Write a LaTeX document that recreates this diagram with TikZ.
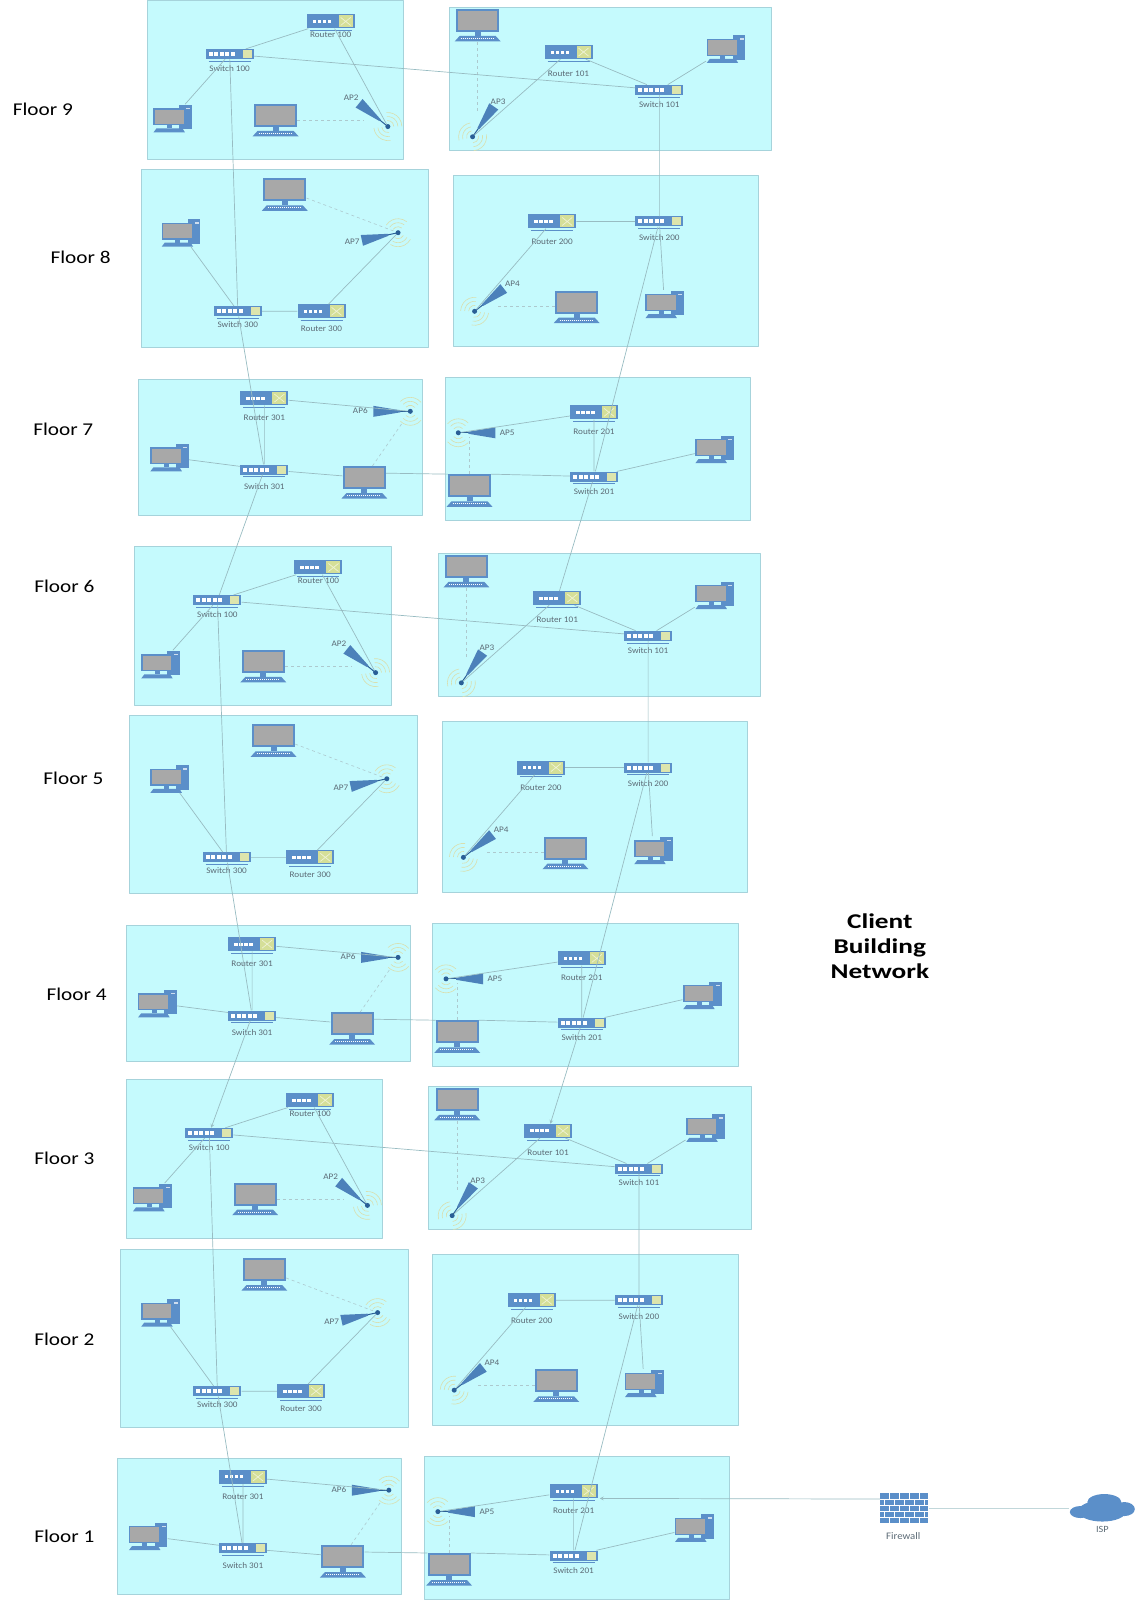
\documentclass[tikz,border=0pt]{standalone}
\usepackage{fontspec}
\setmainfont[FakeStretch=1.08]{Carlito}
\newfontfamily\floorfont[FakeStretch=1.18]{Carlito}
\newfontfamily\titlefont[FakeStretch=1.3]{Carlito}
\definecolor{boxfill}{HTML}{C5FAFD}
\definecolor{boxedge}{HTML}{A6D3DB}
\definecolor{netblue}{HTML}{5B8FC9}
\definecolor{darkblue}{HTML}{2A5F96}
\definecolor{screengray}{HTML}{A8A8A8}
\definecolor{portyellow}{HTML}{D5DF98}
\definecolor{linkgray}{HTML}{98BCC2}
\definecolor{wavepale}{HTML}{D9DFAE}
\definecolor{textgray}{HTML}{5C6B76}
\tikzset{
	floorbox/.style={fill=boxfill,draw=boxedge,line width=0.7pt},
	routerbody/.style={fill=netblue,minimum width=48pt,minimum height=14pt,inner sep=0pt},
	switchbody/.style={fill=netblue,minimum width=48pt,minimum height=10pt,inner sep=0pt},
	pcbody/.style={minimum width=39pt,minimum height=28pt,inner sep=0pt},
	wsbody/.style={fill=netblue,minimum width=43pt,minimum height=23pt,inner sep=0pt},
	fwbody/.style={fill=netblue,minimum width=48pt,minimum height=30pt,inner sep=0pt},
	ispbody/.style={minimum width=66pt,minimum height=28pt,inner sep=0pt},
	apdot/.style={circle,fill=darkblue,minimum size=5pt,inner sep=0pt},
	devlabel/.style={text=textgray,font=\fontsize{8.5}{10}\selectfont,inner sep=0pt},
	floorlabel/.style={font=\floorfont\fontsize{18}{20}\selectfont,inner sep=0pt},
	titlelabel/.style={font=\titlefont\fontsize{21}{25}\selectfont\bfseries,align=center,inner sep=0pt},
	link/.style={draw=linkgray,line width=0.7pt},
	wifilink/.style={draw=linkgray!80,line width=0.6pt,dashed},
	apwave/.style={draw=wavepale,line width=0.6pt}
}
\newcommand{\routerdev}[5]{
	\node[routerbody] (#1) at (#2,#3) {};
	\begin{scope}[shift={(#1.center)},x=1pt,y=1pt]
		\foreach \k in {0,...,3} \fill[white] (-18+\k*5,-1.5) rectangle ++(3.5,3);
		\fill[portyellow] (8,-6) rectangle (22,6);
		\draw[white!60!portyellow,line width=0.7pt] (10,-4)--(20,4) (10,4)--(20,-4);
		\draw[netblue,line width=0.6pt] (-21,-9)--(21,-9);
	\end{scope}
	\node[devlabel] (#1t) at (#2,#3+#5) {#4};
}
\newcommand{\switchdev}[5]{
	\node[switchbody] (#1) at (#2,#3) {};
	\begin{scope}[shift={(#1.center)},x=1pt,y=1pt]
		\foreach \k in {0,...,4} \fill[white] (-21+\k*5.5,-2) rectangle ++(4,4);
		\fill[portyellow!80!white] (13,-4) rectangle (22,4);
		\draw[netblue,line width=0.6pt] (-21,-7)--(21,-7);
	\end{scope}
	\node[devlabel] (#1t) at (#2,#3+#5) {#4};
}
\newcommand{\pcdev}[3]{
	\node[pcbody] (#1) at (#2,#3) {};
	\begin{scope}[shift={(#1.center)},x=1pt,y=1pt]
		\fill[netblue] (7,-11) rectangle (19.5,13.5);
		\fill[white!70!netblue] (14,9) rectangle (18,10.5);
		\fill[netblue] (-19,-7) rectangle (12.5,10);
		\fill[screengray] (-17.7,-5.7) rectangle (11.2,8.7);
		\fill[netblue] (-5.5,-7) rectangle (-0.5,-10);
		\fill[netblue] (-16,-10) -- (10,-10) -- (12.5,-14) -- (-19,-14) -- cycle;
	\end{scope}
}
\newcommand{\wsdev}[3]{
	\node[wsbody] (#1) at (#2,#3) {};
	\begin{scope}[shift={(#1.center)},x=1pt,y=1pt]
		\fill[screengray] (-19.5,-9.5) rectangle (19.5,9.5);
		\fill[netblue] (-3,-11.5) rectangle (3,-15.5);
		\fill[netblue] (-18,-15.5) -- (18,-15.5) -- (23,-21) -- (-23,-21) -- cycle;
		\draw[white,line width=1pt,dash pattern=on 1pt off 1pt] (-17,-18) -- (17,-18);
	\end{scope}
}
\newcommand{\apdev}[7]{
	\node[apdot] (#1) at (#2,#3) {};
	\begin{scope}[shift={(#1.center)},rotate=#4,x=1pt,y=1pt]
		\foreach \rr in {6,10,14} {
			\draw[apwave] (45:\rr) arc (45:140:\rr);
			\draw[apwave] (-45:\rr) arc (-45:-140:\rr);
		}
		\draw[darkblue,line width=1pt] (0,0)--(11,0);
		\fill[netblue!70!darkblue] (10,-1) -- (37,-5.5) -- (37,5.5) -- (10,1) -- cycle;
	\end{scope}
	\node[devlabel] (#1t) at (#6,#7) {#5};
}
\newcommand{\floorleftA}[3]{
	\begin{scope}[shift={(#2,#3)}]
		\draw[floorbox] (144,0) rectangle (395,156);
		\switchdev{#1ls}{225}{53}{Switch 100}{14}
		\routerdev{#1lr}{324}{21}{Router 100}{13}
		\pcdev{#1lp}{169}{116}
		\wsdev{#1lw}{270}{113}
		\apdev{#1la}{380}{124}{141}{AP2}{344}{96}
		\draw[link] (#1ls)--(#1lr) (#1ls)--(#1lp) (#1lr)--(#1la);
		\draw[wifilink,shorten >=24pt] ([yshift=-5pt]#1lw.east)--([yshift=-5pt]#1lw.east -| #1la);
	\end{scope}
}
\newcommand{\floorrightA}[3]{
	\begin{scope}[shift={(#2,#3)}]
		\draw[floorbox] (440,7) rectangle (756,147);
		\wsdev{#1rw}{468}{20}
		\routerdev{#1rr}{557}{51}{Router 101}{21}
		\pcdev{#1rp}{711}{48}
		\switchdev{#1rs}{646}{88}{Switch 101}{14}
		\apdev{#1ra}{463}{134}{55}{AP3}{488}{100}
		\draw[link] (#1rr)--(#1rs) (#1rs)--(#1rp) (#1rr)--(#1ra);
		\draw[wifilink,shorten <=10pt,shorten >=26pt] (#1rw.south)--(#1rw.south |- #1ra);
	\end{scope}
}
\newcommand{\floorleftB}[3]{
	\begin{scope}[shift={(#2,#3)}]
		\draw[floorbox] (138,166) rectangle (420,340);
		\wsdev{#1lw}{279}{186}
		\pcdev{#1lp}{177}{228}
		\switchdev{#1ls}{233}{305}{Switch 300}{13}
		\routerdev{#1lr}{315}{305}{Router 300}{17}
		\apdev{#1la}{390}{228}{192}{AP7}{345}{237}
		\draw[link] (#1lp)--(#1ls) (#1ls)--(#1lr) (#1lr)--(#1la);
		\draw[wifilink] (#1lw)--(#1la);
	\end{scope}
}
\newcommand{\floorrightB}[3]{
	\begin{scope}[shift={(#2,#3)}]
		\draw[floorbox] (444,172) rectangle (743,339);
		\routerdev{#1rr}{541}{217}{Router 200}{20}
		\switchdev{#1rs}{646}{217}{Switch 200}{16}
		\wsdev{#1rw}{565}{296}
		\pcdev{#1rp}{651}{298}
		\apdev{#1ra}{465}{305}{38}{AP4}{502}{278}
		\draw[link] (#1rr)--(#1rs) (#1rs)--(#1rp) (#1rr)--(#1ra);
		\draw[wifilink,shorten >=22pt] ([yshift=-4.5pt]#1rw.west)--([yshift=-4.5pt]#1rw.west -| #1ra);
	\end{scope}
}
\newcommand{\floorleftC}[3]{
	\begin{scope}[shift={(#2,#3)}]
		\draw[floorbox] (136,372) rectangle (414,505);
		\routerdev{#1lr}{259}{390}{Router 301}{19}
		\switchdev{#1ls}{259}{460}{Switch 301}{17}
		\pcdev{#1lp}{166}{448}
		\wsdev{#1lw}{357}{468}
		\apdev{#1la}{402}{403}{180}{AP6}{353}{402}
		\draw[link] (#1lr)--(#1ls) (#1lr)--(#1la) (#1ls)--(#1lp) (#1ls)--(#1lw);
		\draw[wifilink,shorten >=10pt] (#1lw)--(#1la);
	\end{scope}
}
\newcommand{\floorrightC}[3]{
	\begin{scope}[shift={(#2,#3)}]
		\draw[floorbox] (436,370) rectangle (735,510);
		\routerdev{#1rr}{582}{404}{Router 201}{19}
		\switchdev{#1rs}{582}{467}{Switch 201}{15}
		\pcdev{#1rp}{700}{440}
		\wsdev{#1rw}{460}{476}
		\apdev{#1ra}{449}{424}{0}{AP5}{497}{424}
		\draw[link] (#1rr)--(#1ra) (#1rr)--(#1rs) (#1rs)--(#1rp) (#1rw.north east)--(#1rs);
		\draw[wifilink,shorten >=4pt] (#1rw.north)--(#1rw.north |- #1ra);
	\end{scope}
}
\begin{document}
\begin{tikzpicture}[x=1.0207pt,y=-1.0207pt,>=stealth,line join=round]
	\useasboundingbox (0,0) rectangle (1113,1567.6);
	\floorleftA{f9}{0}{0} \floorrightA{f9}{0}{0}
	\floorleftB{f8}{0}{0} \floorrightB{f8}{0}{0}
	\floorleftC{f7}{0}{0} \floorrightC{f7}{0}{0}
	\floorleftA{f6}{-12}{535} \floorrightA{f6}{-11}{535}
	\floorleftB{f5}{-11}{535} \floorrightB{f5}{-11}{535}
	\floorleftC{f4}{-12}{535} \floorrightC{f4}{-12}{535}
	\floorleftA{f3}{-20}{1057} \floorrightA{f3}{-20}{1057}
	\floorleftB{f2}{-20}{1058} \floorrightB{f2}{-20}{1057}
	\floorleftC{f1}{-21}{1057} \floorrightC{f1}{-20}{1057}
	\draw[link] (f9ls)--(f9rs) (f6ls)--(f6rs) (f3ls)--(f3rs);
	\draw[link] ([yshift=4.5pt]f7lw.east)--(f7rw.north west) ([yshift=4.5pt]f4lw.east)--(f4rw.north west) ([yshift=4.5pt]f1lw.east)--(f1rw.north west);
	\draw[link] (f9ls)--(f8ls) (f8ls)--(f7ls) (f7ls)--(f6ls) (f6ls)--(f5ls) (f5ls)--(f4ls) (f3ls)--(f2ls) (f2ls)--(f1ls);
	\draw[link,->] (f4ls)--(f3ls);
	\draw[link] (f9rs)--(f8rs) (f8rs)--(f7rs) (f7rs)--(f6rr) (f6rs)--(f5rs) (f5rs)--(f4rs) (f3rs)--(f2rs) (f2rs)--(f1rs);
	\draw[link,->] (f4rs)--(f3rr);
	\node[floorlabel] (l9) at (42,107) {Floor 9};
	\node[floorlabel] (l8) at (79,252) {Floor 8};
	\node[floorlabel] (l7) at (62,421) {Floor 7};
	\node[floorlabel] (l6) at (63,574) {Floor 6};
	\node[floorlabel] (l5) at (72,763) {Floor 5};
	\node[floorlabel] (l4) at (75,974) {Floor 4};
	\node[floorlabel] (l3) at (63,1135) {Floor 3};
	\node[floorlabel] (l2) at (63,1312) {Floor 2};
	\node[floorlabel] (l1) at (63,1505) {Floor 1};
	\node[titlelabel] (title) at (862,927) {Client\\Building\\Network};
	\node[fwbody] (fw) at (886,1477.5) {};
	\begin{scope}[shift={(fw.center)},x=1pt,y=1pt]
		\foreach \k in {1,...,4} \draw[white,line width=0.5pt] (-24,15-\k*6)--(24,15-\k*6);
		\foreach \k in {0,2,4} \foreach \m in {0,...,3} \draw[white,line width=0.5pt] (-15+\m*10,15-\k*6)--(-15+\m*10,9-\k*6);
		\foreach \k in {1,3} \foreach \m in {0,...,4} \draw[white,line width=0.5pt] (-20+\m*10,15-\k*6)--(-20+\m*10,9-\k*6);
	\end{scope}
	\node[devlabel,font=\fontsize{10}{12}\selectfont] (fwt) at (885,1505) {Firewall};
	\node[ispbody] (isp) at (1080,1477.5) {};
	\begin{scope}[shift={(isp.center)},x=1pt,y=1pt]
		\fill[netblue] (2,6) ellipse (17 and 8);
		\fill[netblue] (-22,-4) ellipse (10.5 and 6);
		\fill[netblue] (22,-1) ellipse (10.5 and 7);
		\fill[netblue] (0,-3) ellipse (24 and 10.5);
	\end{scope}
	\node[devlabel,font=\fontsize{9.5}{11}\selectfont] (ispt) at (1080,1498) {ISP};
	\draw[link,draw=linkgray!60] (fw)--(isp);
	\draw[link,->,shorten >=2pt] ([yshift=9pt]fw.west)--(f1rr.south east);
\end{tikzpicture}
\end{document}
